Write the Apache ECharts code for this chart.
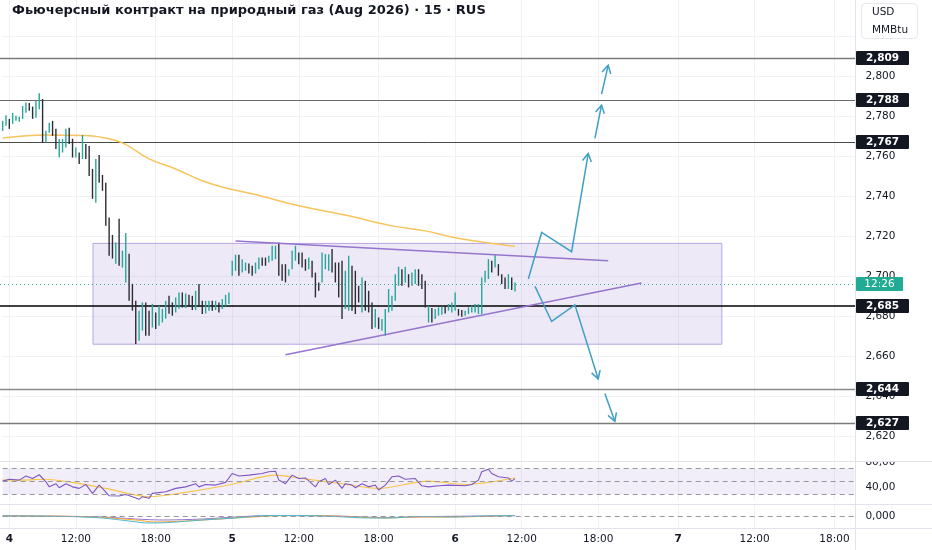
<!DOCTYPE html>
<html><head><meta charset="utf-8">
<script src="https://cdn.jsdelivr.net/npm/echarts@6/dist/echarts.min.js"></script>
<style>html,body{margin:0;padding:0;background:#fff}#c{width:932px;height:550px}</style>
</head><body><div id="c"></div>
<script>
// ---------- DATA ----------
const titleText = 'Фьючерсный контракт на природный газ (Aug 2026) · 15 · RUS';
const slotCount = 257;
const xLabelIdx = [2, 22, 46, 69, 89, 113, 136, 156, 179, 203, 226, 250];
const xLabelText = ['4', '12:00', '18:00', '5', '12:00', '18:00', '6', '12:00', '18:00', '7', '12:00', '18:00'];
const dayLabels = ['4', '5', '6', '7'];

const barHigh = [
2.7776,2.7804,2.7786,2.7816,2.7801,2.7797,2.7850,2.7867,2.7865,2.7847,
2.7875,2.7914,2.7885,2.7726,2.7766,2.7776,2.7736,2.7686,2.7686,2.7736,
2.7742,2.7687,2.7643,2.7618,2.7706,2.7661,2.7651,2.7536,2.7586,2.7606,
2.7506,2.7467,2.7294,2.7207,2.7169,2.7287,2.7128,2.7217,2.7113,2.6963,
2.6878,2.6829,2.6870,2.6870,2.6829,2.6863,2.6820,2.6853,2.6838,2.6878,
2.6903,2.6870,2.6895,2.6920,2.6920,2.6915,2.6908,2.6903,2.6928,2.6962,
2.6878,2.6878,2.6878,2.6878,2.6878,2.6870,2.6887,2.6908,2.6920,2.7078,
2.7108,2.7108,2.7086,2.7069,2.7064,2.7053,2.7069,2.7094,2.7094,2.7094,
2.7103,2.7153,2.7153,2.7169,2.7061,2.7061,2.7036,2.7128,2.7153,2.7119,
2.7119,2.7086,2.7094,2.7078,2.7019,2.6970,2.7119,2.7111,2.7111,2.7136,
2.7069,2.7069,2.7078,2.7028,2.7103,2.7053,2.7028,2.6953,2.6994,2.6978,
2.6928,2.6870,2.6837,2.6795,2.6787,2.6837,2.6937,2.6903,2.7011,2.7048,
2.7036,2.7048,2.7011,2.7019,2.7036,2.7036,2.7011,2.6978,2.6853,2.6842,
2.6837,2.6845,2.6848,2.6853,2.6862,2.6870,2.6920,2.6837,2.6832,2.6829,
2.6845,2.6853,2.6862,2.6862,2.6994,2.7028,2.7086,2.7078,2.7108,2.7061,
2.7011,2.6994,2.7011,2.6994,2.6970];
const barLow = [
2.7726,2.7751,2.7736,2.7761,2.7776,2.7771,2.7786,2.7817,2.7826,2.7786,
2.7792,2.7834,2.7668,2.7668,2.7717,2.7701,2.7636,2.7593,2.7618,2.7643,
2.7661,2.7593,2.7593,2.7561,2.7586,2.7586,2.7501,2.7387,2.7367,2.7467,
2.7427,2.7252,2.7103,2.7089,2.7063,2.7053,2.7044,2.6970,2.6878,2.6829,
2.6662,2.6679,2.6729,2.6704,2.6704,2.6745,2.6737,2.6754,2.6770,2.6789,
2.6814,2.6804,2.6820,2.6838,2.6845,2.6842,2.6848,2.6832,2.6832,2.6848,
2.6812,2.6815,2.6829,2.6829,2.6832,2.6820,2.6837,2.6853,2.6862,2.7003,
2.7028,2.7003,2.7019,2.7028,2.7014,2.7003,2.7014,2.7036,2.7053,2.7053,
2.7069,2.7078,2.7086,2.7003,2.6978,2.6970,2.7003,2.7036,2.7078,2.7061,
2.7044,2.7028,2.7036,2.6994,2.6895,2.6928,2.6970,2.7036,2.7028,2.7019,
2.6970,2.6895,2.6787,2.6837,2.6829,2.6829,2.6812,2.6870,2.6820,2.6829,
2.6820,2.6737,2.6745,2.6737,2.6729,2.6704,2.6820,2.6829,2.6878,2.6953,
2.6953,2.6970,2.6945,2.6953,2.6962,2.6953,2.6937,2.6845,2.6770,2.6770,
2.6787,2.6804,2.6809,2.6815,2.6829,2.6820,2.6829,2.6804,2.6799,2.6804,
2.6812,2.6820,2.6820,2.6812,2.6812,2.6970,2.6987,2.7019,2.7044,2.7003,
2.6962,2.6937,2.6937,2.6932,2.6925];
const barUp = [
1,1,0,1,1,1,1,1,0,0, 1,1,0,1,1,0,0,1,1,1, 0,0,1,0,1,0,0,0,1,0,
0,0,0,0,1,0,1,1,0,0, 0,1,1,0,0,1,0,1,1,1, 0,0,1,1,0,1,0,0,1,0,
0,1,1,0,1,0,1,1,1,1, 1,0,1,1,0,0,1,1,0,0, 1,1,1,0,0,0,1,1,1,0,
0,0,1,0,0,0,1,1,1,0, 0,0,0,1,1,0,0,0,1,0, 0,0,1,0,1,1,1,1,1,1,
0,1,0,1,1,0,0,0,1,0, 1,1,1,0,1,1,1,0,0,1, 1,1,1,1,1,1,1,0,1,0,
0,0,1,0,1];

const maPoints = [[0,2.7691],[13,2.7706],[24,2.7703],[29,2.7696],[36,2.7666],[44,2.7586],[52,2.7536],[60,2.7477],[68,2.7437],[75,2.7412],[89,2.7352],[104,2.7302],[117,2.7252],[127,2.7227],[135,2.7197],[144,2.7172],[154,2.7150]];

const levelValues = [2.809, 2.788, 2.767, 2.685, 2.644, 2.627];
const lastPrice = 2.6963;
const countdownText = '12:26';

const zoneBox = [[27, 2.7167], [216, 2.6664]];
const trendUpper = [[70, 2.7177], [182, 2.7078]];
const trendLower = [[85, 2.6609], [192, 2.6967]];
const arrowUpMain = [[158,2.6987],[162,2.7219],[171,2.7123],[176,2.7613]];
const arrowUp2 = [[178,2.7689],[180,2.7854]];
const arrowUp3 = [[180,2.7909],[182,2.8053]];
const arrowDownMain = [[160,2.6950],[165,2.6775],[172,2.6858],[179,2.6488]];
const arrowDown2 = [[181,2.6416],[184,2.6277]];

const priceMin = 2.60, priceMax = 2.8379, priceStep = 0.02;
const rsiMin = 20, rsiMax = 80, rsiStep = 20, rsiShown = [80, 40];
const rsiBand = [30, 70], rsiDashed = [70, 50, 30];
const rsiPoints = [[0,50],[2,53],[5,51.6],[7,58],[9,54],[11,60],[13,49],[14,41],[16,46],[17,39.6],[19,46],[21,41],[23,38.6],[25,44.8],[27,30.8],[29,43.8],[30,38.6],[32,27],[35,26.6],[37,29],[39,25.6],[41,21.4],[42,25.6],[44,23],[45,30.8],[49,33.4],[52,38.6],[55,41],[58,46],[59,41],[61,44.8],[64,43.8],[67,48],[69,62],[71,58],[74,59.4],[78,62],[80,64.6],[82,65.6],[83,51.6],[85,46],[87,59.4],[89,54],[91,55],[94,41],[95,49],[97,54],[98,44.8],[100,51.6],[102,38.6],[103,46],[105,43.8],[106,39.6],[108,46],[110,41],[112,43.8],[113,36],[115,43.8],[117,56.8],[119,58],[121,53],[124,54],[126,42.7],[128,41],[131,42.7],[134,43.8],[139,42.7],[141,44.8],[143,51.6],[144,64.6],[146,68.7],[147,62],[149,56.8],[152,55],[153,50],[154,54]];
const rsiMaPoints = [[0,51.6],[6,51.6],[13,53],[21,48],[31,38.6],[44,25.6],[53,30.8],[68,43.8],[82,59.4],[90,54],[102,46],[113,38.6],[128,50],[139,44.8],[154,55]];

const oscMin = -0.012, oscMax = 0.012, oscStep = 0.012;
const oscTeal = [[0,0],[20,-0.0005],[30,-0.002],[38,-0.005],[44,-0.007],[50,-0.0065],[60,-0.004],[70,-0.002],[80,0.0005],[90,0.0005],[100,-0.0005],[110,-0.002],[116,-0.002],[125,-0.0005],[135,-0.001],[145,0],[154,0.0005]];
const oscOrange = [[0,0],[20,-0.0003],[30,-0.0015],[40,-0.004],[46,-0.006],[55,-0.005],[65,-0.003],[75,-0.001],[85,0.0003],[95,0.0003],[105,-0.0008],[115,-0.002],[125,-0.001],[135,-0.001],[145,-0.0003],[154,0.0005]];
const oscPurple = [[0,0.0003],[30,-0.001],[40,-0.003],[48,-0.004],[60,-0.003],[70,-0.001],[80,0.0005],[100,0],[114,-0.0015],[130,-0.0005],[154,0.0003]];

// ---------- CHART ----------
const FONT = 'DejaVu Sans';
const TXT = '#131722';
const cats = Array.from({length: slotCount}, (_, i) => String(i));
const labelMap = {};
xLabelIdx.forEach((k, j) => { labelMap[k] = xLabelText[j]; });
const isLab = (i) => labelMap[i] !== undefined;
const fmtComma = (v, d) => v.toFixed(d).replace('.', ',');
const GL = 2.66, GR = 932 - 854.4;
const PANE_X = 855.5;

function xAx(gi, showLabels) {
  return {
    type: 'category', gridIndex: gi, data: cats, boundaryGap: false,
    axisLine: {show: false}, axisTick: {show: false},
    axisLabel: {
      show: showLabels, interval: (i) => isLab(i), margin: 6,
      formatter: (v, i) => { const t = labelMap[i] || ''; return dayLabels.includes(t) ? '{b|' + t + '}' : t; },
      color: TXT, fontSize: 10.5, fontFamily: FONT,
      rich: {b: {fontWeight: 'bold', fontSize: 10.5, fontFamily: FONT, color: TXT}}
    },
    splitLine: {show: true, interval: (i) => isLab(i), lineStyle: {color: '#eff1f5', width: 1}}
  };
}

function arrowHead(a, b, len, ang) {
  const dx = b[0] - a[0], dy = b[1] - a[1];
  const L = Math.hypot(dx, dy) || 1; const ux = dx / L, uy = dy / L;
  const c = Math.cos(ang), s = Math.sin(ang);
  const l = [b[0] - len * (ux * c - uy * s), b[1] - len * (uy * c + ux * s)];
  const r = [b[0] - len * (ux * c + uy * s), b[1] - len * (uy * c - ux * s)];
  return [l, b, r];
}

const drawings = [
  {pts: trendUpper, color: '#9575cd', arrow: false},
  {pts: trendLower, color: '#9575cd', arrow: false},
  {pts: arrowUpMain, color: '#3f9fc6', arrow: true},
  {pts: arrowUp2, color: '#3f9fc6', arrow: true},
  {pts: arrowUp3, color: '#3f9fc6', arrow: true},
  {pts: arrowDownMain, color: '#3f9fc6', arrow: true},
  {pts: arrowDown2, color: '#3f9fc6', arrow: true}
];
const levelColors = ['#7b7b7b', '#6a6a6a', '#4a4a4a', '#000000', '#8a8a8a', '#7b7b7b'];
const levelWidths = [1.3, 1.2, 1, 1.6, 1.3, 1.3];

const chart = echarts.init(document.getElementById('c'));
chart.setOption({
  animation: false,
  backgroundColor: '#ffffff',
  grid: [
    {left: GL, right: GR, top: 0, height: 476.8},
    {left: GL, right: GR, top: 462, height: 38.25},
    {left: GL, right: GR, top: 504, height: 24}
  ],
  xAxis: [xAx(0, false), xAx(1, false), xAx(2, true)],
  yAxis: [
    {gridIndex: 0, type: 'value', position: 'right', min: priceMin, max: priceMax, interval: priceStep,
      axisLine: {show: false}, axisTick: {show: false},
      axisLabel: {margin: 11, color: TXT, fontSize: 10.5, fontFamily: FONT,
        formatter: (v) => (v < 2.61 || v > 2.81) ? '' : fmtComma(v, 3)},
      splitLine: {show: true, showMinLine: false, showMaxLine: false, lineStyle: {color: '#eff1f5', width: 1}}},
    {gridIndex: 1, type: 'value', position: 'right', min: rsiMin, max: rsiMax, interval: rsiStep,
      axisLine: {show: false}, axisTick: {show: false},
      axisLabel: {margin: 11, color: TXT, fontSize: 10.5, fontFamily: FONT,
        formatter: (v) => rsiShown.includes(Math.round(v)) ? fmtComma(v, 2) : ''},
      splitLine: {show: false}},
    {gridIndex: 2, type: 'value', position: 'right', min: oscMin, max: oscMax, interval: oscStep,
      axisLine: {show: false}, axisTick: {show: false},
      axisLabel: {margin: 11, color: TXT, fontSize: 10.5, fontFamily: FONT,
        formatter: (v) => Math.abs(v) < 1e-6 ? fmtComma(0, 3) : ''},
      splitLine: {show: false}}
  ],
  graphic: [
    {type: 'text', left: 12, top: 4, z: 100, style: {text: titleText, font: 'bold 13px "DejaVu Sans"', fill: TXT}},
    {type: 'line', z: 50, shape: {x1: PANE_X, y1: 0, x2: PANE_X, y2: 550}, style: {stroke: '#e0e3eb', lineWidth: 1}},
    {type: 'line', z: 50, shape: {x1: 0, y1: 461.5, x2: 932, y2: 461.5}, style: {stroke: '#e0e3eb', lineWidth: 1}},
    {type: 'line', z: 50, shape: {x1: 0, y1: 504.5, x2: 932, y2: 504.5}, style: {stroke: '#e0e3eb', lineWidth: 1}},
    {type: 'line', z: 50, shape: {x1: 0, y1: 528.5, x2: 932, y2: 528.5}, style: {stroke: '#e0e3eb', lineWidth: 1}},
    {type: 'rect', z: 60, shape: {x: 857, y: 449, width: 75, height: 12}, style: {fill: '#ffffff'}},
    {type: 'rect', z: 60, shape: {x: 861.5, y: 3.5, width: 56, height: 35, r: 4}, style: {fill: '#ffffff', stroke: '#e6e8ee', lineWidth: 1}},
    {type: 'text', z: 61, x: 872, y: 12, style: {text: 'USD', font: '10.5px "DejaVu Sans"', fill: TXT, verticalAlign: 'middle'}},
    {type: 'text', z: 61, x: 872, y: 30, style: {text: 'MMBtu', font: '10.5px "DejaVu Sans"', fill: TXT, verticalAlign: 'middle'}}
  ],
  series: [
    { // zone rectangle
      type: 'custom', xAxisIndex: 0, yAxisIndex: 0, z: 1, silent: true,
      data: [[zoneBox[0][0], zoneBox[0][1]]], encode: {x: 0, y: 1},
      renderItem: (params, api) => {
        const a = api.coord(zoneBox[0]), b = api.coord(zoneBox[1]);
        return {type: 'rect', shape: {x: a[0] + 0.5, y: a[1] + 0.5, width: b[0] - a[0], height: b[1] - a[1]},
          style: {fill: 'rgba(149,117,205,0.16)', stroke: '#b8a7e0', lineWidth: 1}};
      }
    },
    { // horizontal levels with axis labels
      type: 'custom', xAxisIndex: 0, yAxisIndex: 0, z: 3, silent: true, clip: false,
      data: levelValues.map((v, i) => [0, v, i]), encode: {x: 0, y: 1},
      renderItem: (params, api) => {
        const i = api.value(2), v = api.value(1);
        const y = api.coord([0, v])[1];
        const w = levelWidths[i];
        const yl = w < 1.5 ? Math.round(y) + 0.5 : Math.round(y);
        return {type: 'group', children: [
          {type: 'line', shape: {x1: 0, y1: yl, x2: PANE_X, y2: yl}, style: {stroke: levelColors[i], lineWidth: w}},
          {type: 'rect', shape: {x: PANE_X + 0.5, y: Math.round(y) - 7, width: 53, height: 14, r: 1}, style: {fill: '#131722'}},
          {type: 'text', x: PANE_X + 27, y: Math.round(y), style: {text: fmtComma(v, 3), fill: '#ffffff', font: 'bold 10.5px "DejaVu Sans"', align: 'center', verticalAlign: 'middle'}}
        ]};
      }
    },
    { // last price dotted line + countdown label
      type: 'custom', xAxisIndex: 0, yAxisIndex: 0, z: 3, silent: true, clip: false,
      data: [[0, lastPrice]], encode: {x: 0, y: 1},
      renderItem: (params, api) => {
        const y = Math.round(api.coord([0, api.value(1)])[1]) + 0.5;
        return {type: 'group', children: [
          {type: 'line', shape: {x1: 0, y1: y, x2: PANE_X, y2: y}, style: {stroke: '#3bb3a6', lineWidth: 1, lineDash: [1, 3]}},
          {type: 'rect', shape: {x: PANE_X + 0.5, y: y - 7.5, width: 47, height: 14, r: 1}, style: {fill: '#22ab94'}},
          {type: 'text', x: PANE_X + 24, y: y, style: {text: countdownText, fill: '#ffffff', font: '10.5px "DejaVu Sans"', align: 'center', verticalAlign: 'middle'}}
        ]};
      }
    },
    { // moving average
      type: 'line', xAxisIndex: 0, yAxisIndex: 0, z: 4, data: maPoints, smooth: 0.4, showSymbol: false, silent: true,
      lineStyle: {color: '#f7c45e', width: 1.5}
    },
    { // OHLC bars (high-low)
      type: 'custom', xAxisIndex: 0, yAxisIndex: 0, z: 5, silent: true,
      data: barHigh.map((h, i) => [i, h, barLow[i], barUp[i]]), encode: {x: 0, y: [1, 2]},
      renderItem: (params, api) => {
        const k = api.value(0);
        const t = api.coord([k, api.value(1)]), b = api.coord([k, api.value(2)]);
        return {type: 'line', shape: {x1: t[0], y1: t[1], x2: b[0], y2: b[1]},
          style: {stroke: api.value(3) ? '#26a69a' : '#2b2d33', lineWidth: 1.4}};
      }
    },
    { // drawings: trend lines and arrows
      type: 'custom', xAxisIndex: 0, yAxisIndex: 0, z: 6, silent: true,
      data: drawings.map((d, i) => [d.pts[0][0], d.pts[0][1], i]), encode: {x: 0, y: 1},
      renderItem: (params, api) => {
        const d = drawings[api.value(2)];
        const px = d.pts.map(p => api.coord(p));
        const children = [{type: 'polyline', shape: {points: px}, style: {stroke: d.color, lineWidth: 1.5, fill: null}}];
        if (d.arrow) {
          const n = px.length;
          children.push({type: 'polyline', shape: {points: arrowHead(px[n - 2], px[n - 1], 9, 0.52)}, style: {stroke: d.color, lineWidth: 1.5, fill: null}});
        }
        return {type: 'group', children};
      }
    },
    { // RSI
      type: 'line', xAxisIndex: 1, yAxisIndex: 1, z: 4, data: rsiPoints, showSymbol: false, silent: true,
      lineStyle: {color: '#7e57c2', width: 1.1},
      markArea: {silent: true, itemStyle: {color: 'rgba(126,87,194,0.10)'}, data: [[{yAxis: rsiBand[0]}, {yAxis: rsiBand[1]}]]},
      markLine: {silent: true, symbol: ['none', 'none'], label: {show: false},
        lineStyle: {color: '#9598a1', type: [5, 4], width: 1}, data: rsiDashed.map(v => ({yAxis: v}))}
    },
    { // RSI moving average
      type: 'line', xAxisIndex: 1, yAxisIndex: 1, z: 3, data: rsiMaPoints, smooth: 0.3, showSymbol: false, silent: true,
      lineStyle: {color: '#f7c548', width: 1.1}
    },
    { type: 'line', xAxisIndex: 2, yAxisIndex: 2, z: 3, data: oscPurple, smooth: 0.3, showSymbol: false, silent: true,
      lineStyle: {color: '#9575cd', width: 1},
      markLine: {silent: true, symbol: ['none', 'none'], label: {show: false},
        lineStyle: {color: '#9598a1', type: [5, 4], width: 1}, data: [{yAxis: 0}]}
    },
    { type: 'line', xAxisIndex: 2, yAxisIndex: 2, z: 3, data: oscOrange, smooth: 0.3, showSymbol: false, silent: true,
      lineStyle: {color: '#ffa726', width: 1}},
    { type: 'line', xAxisIndex: 2, yAxisIndex: 2, z: 3, data: oscTeal, smooth: 0.3, showSymbol: false, silent: true,
      lineStyle: {color: '#4fb8d0', width: 1}}
  ]
});
</script>
</body></html>
